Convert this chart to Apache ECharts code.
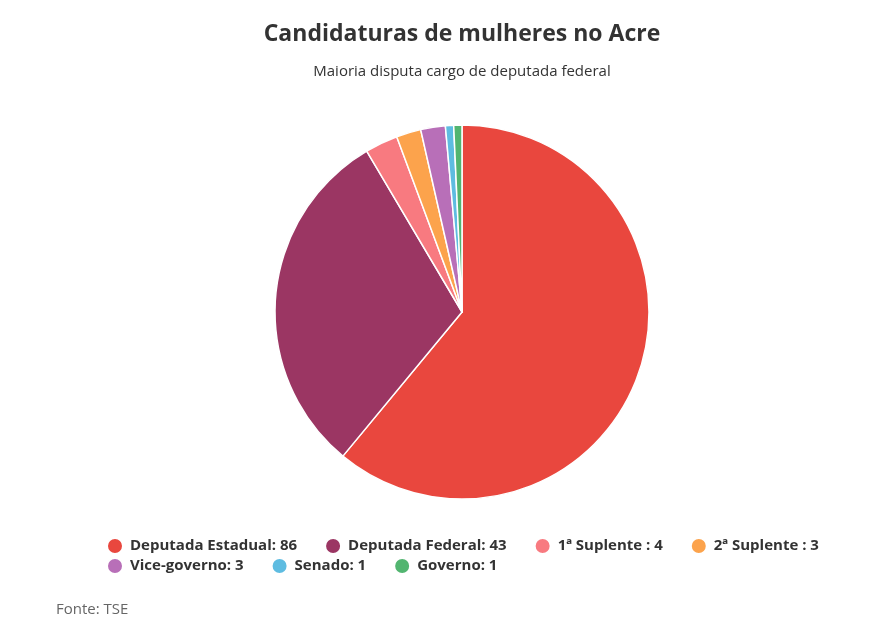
<!DOCTYPE html>
<html>
<head>
    <meta charset="utf-8">
    <title>Candidaturas de mulheres no Acre</title>
    <script src="https://cdn.jsdelivr.net/npm/echarts@6/dist/echarts.min.js"></script>
    <style>
        html, body { margin: 0; padding: 0; background: #fff; }
        #main { width: 892px; height: 632px; }
    </style>
</head>
<body>
    <div id="main"></div>
    <script type="text/javascript">
        // data
        var categories = ['Deputada Estadual', 'Deputada Federal', '1ª Suplente ', '2ª Suplente ', 'Vice-governo', 'Senado', 'Governo'];
        var values = [86, 43, 4, 3, 3, 1, 1];
        var colors = ['#e9473e', '#9b3663', '#f87a80', '#fca34c', '#b86fb8', '#5ebce1', '#52b570'];

        var pieData = categories.map(function (name, i) {
            return { name: name, value: values[i] };
        });
        var lookup = {};
        categories.forEach(function (c, i) { lookup[c] = values[i]; });

        var myChart = echarts.init(document.getElementById('main'), null, { renderer: 'canvas' });

        var font = '"Open Sans", "Noto Sans", sans-serif';

        // two legend rows, left aligned
        function legendRow(names, top) {
            return {
                left: 101,
                top: top,
                data: names,
                icon: 'circle',
                itemWidth: 16,
                itemHeight: 16,
                itemGap: 27,
                textStyle: { fontFamily: font, fontSize: 15, fontWeight: 'bold', color: '#333', padding: [0, 0, 0, 2] },
                formatter: function (name) {
                    return name + ': ' + lookup[name];
                }
            };
        }

        var option = {
            animation: false,
            color: colors,
            textStyle: { fontFamily: font },
            title: [{
                text: 'Candidaturas de mulheres no Acre',
                left: 457,
                textAlign: 'center',
                top: 18,
                textStyle: { fontFamily: font, fontSize: 23, fontWeight: 'bold', color: '#333' }
            }, {
                text: 'Maioria disputa cargo de deputada federal',
                left: 457,
                textAlign: 'center',
                top: 59,
                textStyle: { fontFamily: font, fontSize: 15, fontWeight: 'normal', color: '#333' }
            }, {
                text: 'Fonte: TSE',
                left: 51,
                top: 597,
                textStyle: { fontFamily: font, fontSize: 15, fontWeight: 'normal', color: '#666' }
            }],
            legend: [
                legendRow(categories.slice(0, 4), 532),
                legendRow(categories.slice(4), 552)
            ],
            series: [{
                type: 'pie',
                center: [462, 312],
                radius: [0, 187],
                startAngle: 90,
                clockwise: true,
                label: { show: false },
                labelLine: { show: false },
                itemStyle: { borderColor: '#fff', borderWidth: 1.5 },
                data: pieData
            }]
        };

        myChart.setOption(option);
    </script>
</body>
</html>
